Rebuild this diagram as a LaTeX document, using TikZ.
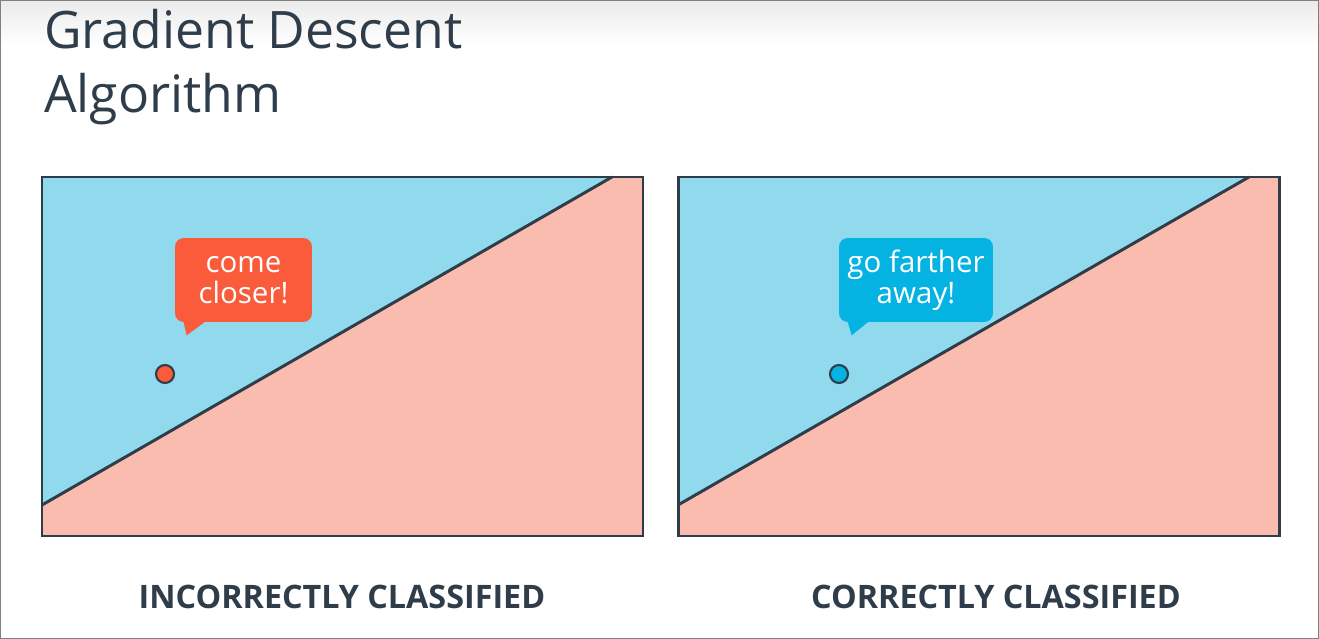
\documentclass[tikz,border=0pt]{standalone}
\usepackage{fontspec}
\setmainfont{Open Sans}
\usetikzlibrary{positioning, calc}
\definecolor{inkdark}{HTML}{2E3D49}
\definecolor{bluezone}{HTML}{91D9ED}
\definecolor{pinkzone}{HTML}{FBBCB0}
\definecolor{bubbleorange}{HTML}{F95B3B}
\definecolor{bubbleblue}{HTML}{05B3E3}
\tikzset{
  panelframe/.style={draw=inkdark, line width=1.7pt},
  boundaryline/.style={draw=inkdark, line width=1.7pt},
  speechbubble/.style={
    rounded corners=5pt, align=center, text=white, inner sep=0pt,
    font=\fontsize{16.8}{17.6}\selectfont,
    minimum width=2.74cm, minimum height=1.68cm
  },
  pointdot/.style={
    circle, draw=inkdark, line width=1.2pt, inner sep=0pt,
    minimum size=0.36cm
  },
  captiontext/.style={
    font=\bfseries\fontsize{18.4}{20}\selectfont, text=inkdark
  },
}
\begin{document}
\begin{tikzpicture}[x=0.02cm, y=-0.02cm]
  \useasboundingbox (0,0) rectangle (1319,639);
  % ---- BACKGROUND ----
  \fill[white] (0,0) rectangle (1319,639);
  \shade[top color=black!8, bottom color=white] (0,0) rectangle (1319,45);
  \draw[black!50, line width=1.2pt] (0,0) rectangle (1319,639);

  % Title
  \node[anchor=base west, align=left, text=inkdark,
    font=\fontsize{29.4}{36.4}\selectfont] (title) at (38,112)
    {Gradient Descent\\Algorithm};

  % ---- LEFT PANEL: INCORRECTLY CLASSIFIED ----
  \fill[bluezone] (42,177) rectangle (643,536);
  \fill[pinkzone] (42,505) -- (612,177) -- (643,177) -- (643,536)
    -- (42,536) -- cycle;
  \draw[boundaryline] (42,505) -- (612,177);
  \draw[panelframe] (42,177) rectangle (643,536);

  \node[pointdot, fill=bubbleorange] (dotwrong) at (165,374) {};
  \node[speechbubble, fill=bubbleorange] (bubwrong) at (243.5,280)
    {\raisebox{-3pt}{come}\\\raisebox{-3pt}{closer!}};
  \fill[bubbleorange] ($(bubwrong.south west)+(8,-4)$)
    -- ($(bubwrong.south west)+(12,13)$)
    -- ($(bubwrong.south west)+(35,-4)$) -- cycle;

  \node[captiontext] (capwrong) at (342,597) {INCORRECTLY CLASSIFIED};

  % ---- RIGHT PANEL: CORRECTLY CLASSIFIED ----
  \fill[bluezone] (678,177) rectangle (1279,536);
  \fill[pinkzone] (678,505) -- (1249,177) -- (1279,177) -- (1279,536)
    -- (678,536) -- cycle;
  \draw[boundaryline] (678,505) -- (1249,177);
  \draw[panelframe] (678,177) rectangle (1279,536);

  \node[pointdot, fill=bubbleblue] (dotright) at (839,374) {};
  \node[speechbubble, fill=bubbleblue, minimum width=3.08cm]
    (bubright) at (916,280)
    {\raisebox{-3pt}{go farther}\\\raisebox{-3pt}{away!}};
  \fill[bubbleblue] ($(bubright.south west)+(8,-4)$)
    -- ($(bubright.south west)+(13,13)$)
    -- ($(bubright.south west)+(34,-4)$) -- cycle;

  \node[captiontext] (capright) at (996,597) {CORRECTLY CLASSIFIED};
\end{tikzpicture}
\end{document}
